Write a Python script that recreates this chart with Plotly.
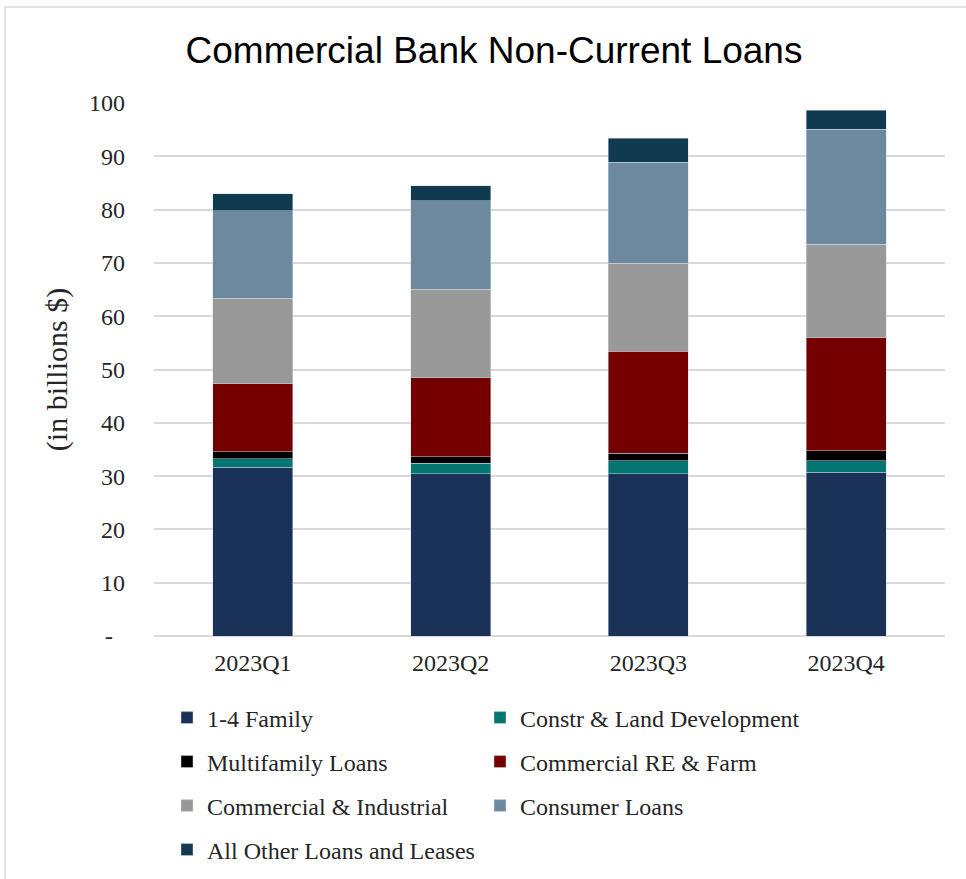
import plotly.graph_objects as go

# Quarterly non-current loan balances by category, in billions of dollars
quarters = ["2023Q1", "2023Q2", "2023Q3", "2023Q4"]

family_1_4 = [31.7, 30.45, 30.45, 30.7]
constr_land = [1.6, 1.95, 2.45, 2.2]
multifamily = [1.3, 1.2, 1.4, 1.9]
commercial_re_farm = [12.7, 14.9, 19.1, 21.2]
commercial_industrial = [16.1, 16.6, 16.5, 17.5]
consumer = [16.4, 16.6, 19.0, 21.6]
all_other = [3.2, 2.8, 4.5, 3.5]

y_tick_vals = [0, 10, 20, 30, 40, 50, 60, 70, 80, 90, 100]
y_tick_text = ["-\u00a0\u00a0"] + [str(v) for v in y_tick_vals[1:]]

series = [
    ("1-4 Family", family_1_4, "#1b3258"),
    ("Constr & Land Development", constr_land, "#037672"),
    ("Multifamily Loans", multifamily, "#000000"),
    ("Commercial RE & Farm", commercial_re_farm, "#750000"),
    ("Commercial & Industrial", commercial_industrial, "#999999"),
    ("Consumer Loans", consumer, "#6c89a0"),
    ("All Other Loans and Leases", all_other, "#0f3a4f"),
]

W, H = 966, 879
L, R, T, B = 154, 21, 103, 243
plot_w = W - L - R
plot_h = H - T - B


def px_x(px):
    return (px - L) / plot_w


def px_y(py):
    return (H - B - py) / plot_h


# legend grid: two columns, four rows (pixel anchors)
legend_cols = [167, 480]
legend_rows = [718, 762, 806, 850]

serif = "Liberation Serif"
legend_font = dict(family=serif, size=24, color="#262626")

fig = go.Figure()
legends = {}
for i, (name, vals, color) in enumerate(series):
    key = "legend" if i == 0 else f"legend{i + 1}"
    fig.add_trace(go.Bar(
        name=name,
        x=quarters,
        y=vals,
        showlegend=True,
        marker=dict(color=color, line=dict(color="rgba(210,220,230,0.6)", width=0.8)),
        legend=key,
    ))
    legends[key] = dict(
        visible=True,
        orientation="h",
        x=px_x(legend_cols[i % 2]), xanchor="left",
        y=px_y(legend_rows[i // 2]), yanchor="middle",
        font=legend_font,
        bgcolor="rgba(0,0,0,0)",
        itemclick=False, itemdoubleclick=False,
    )

fig.update_layout(
    width=W, height=H,
    showlegend=True,
    margin=dict(l=L, r=R, t=T, b=B, autoexpand=False),
    paper_bgcolor="white",
    plot_bgcolor="white",
    barmode="stack",
    bargap=0.595,
    title=dict(
        text="Commercial Bank Non-Current Loans",
        font=dict(family="Liberation Sans", size=37, color="#000000"),
        x=494 / W, xref="container", xanchor="center",
        y=1 - 50 / H, yref="container", yanchor="middle",
    ),
    xaxis=dict(
        tickfont=dict(family=serif, size=24, color="#262626"),
        showgrid=False,
        showline=False,
        ticks="",
        ticklabelstandoff=10,
    ),
    yaxis=dict(
        range=[0, 100],
        tickvals=y_tick_vals,
        ticktext=y_tick_text,
        tickfont=dict(family=serif, size=24, color="#262626"),
        showgrid=True,
        gridcolor="#d9d9d9",
        gridwidth=1.5,
        zeroline=True,
        zerolinecolor="#d9d9d9",
        zerolinewidth=1.5,
        showline=False,
        ticks="",
        ticklabelstandoff=28,
        title=dict(
            text="(in billions $)",
            font=dict(family=serif, size=30, color="#262626"),
            standoff=12,
        ),
    ),
    shapes=[
        dict(
            type="rect", xref="paper", yref="paper",
            x0=px_x(5), x1=px_x(W + 30), y0=px_y(H + 30), y1=px_y(7),
            line=dict(color="#d9d9d9", width=1.5),
            fillcolor="rgba(0,0,0,0)",
            layer="below",
        )
    ],
    **legends,
)

fig.write_html("out.html")
